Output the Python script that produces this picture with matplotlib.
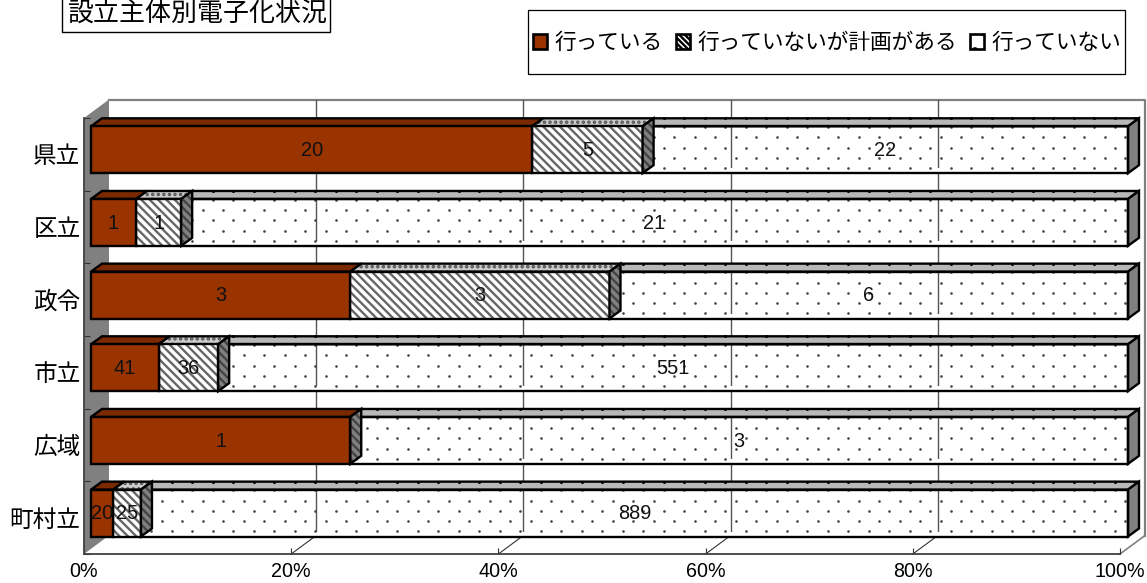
import numpy as np
import matplotlib
matplotlib.use("Agg")
import matplotlib.pyplot as plt
from matplotlib.patches import Patch, Rectangle
from matplotlib.transforms import IdentityTransform

W, H = 1147, 583
JP = ['Noto Sans CJK JP', 'DejaVu Sans']
LATIN = 'Liberation Sans'

# Data
categories = ['県立', '区立', '政令', '市立', '広域', '町村立']
doing = [20, 1, 3, 41, 1, 20]
planned = [5, 1, 3, 36, 0, 25]
not_doing = [22, 21, 6, 551, 3, 889]
series_names = ['行っている', '行っていないが計画がある', '行っていない']
x_ticks = [0, 20, 40, 60, 80, 100]
x_tick_labels = ['0%', '20%', '40%', '60%', '80%', '100%']

BROWN = '#993300'
BROWN_TOP = '#7a2900'
WALL = '#808080'
TOP_GREY = '#b8b8b8'

plt.rcParams['hatch.linewidth'] = 1.7


def px_axes(fig, left, top, right, bottom):
    return fig.add_axes([left / W, 1 - bottom / H, (right - left) / W, (bottom - top) / H])


fig = plt.figure(figsize=(W / 100, H / 100), dpi=100)

# Front plane of the chart box
L, R, T, B = 84, 1120, 118, 554
ax0 = px_axes(fig, L, T, R, B)
ax0.set_xlim(0, 100)
ax0.set_ylim(5.5, -0.5)
ax0.patch.set_visible(False)

sx = 100 / (R - L)
sy = 6 / (B - T)
wall_dx, wall_dy = 25 * sx, 18.5 * sy

# side wall
ax0.fill([0, wall_dx, wall_dx, 0],
         [-0.5, -0.5 - wall_dy, 5.5 - wall_dy, 5.5],
         color=WALL, lw=0, clip_on=False, zorder=1)
# back wall outline
ax0.plot([wall_dx, 100 + wall_dx, 100 + wall_dx],
         [-0.5 - wall_dy, -0.5 - wall_dy, 5.5 - wall_dy],
         color=WALL, lw=1.6, clip_on=False, zorder=1)
ax0.plot([100, 100 + wall_dx], [5.5, 5.5 - wall_dy], color=WALL, lw=1.2, clip_on=False, zorder=1)
# grid lines on back wall and floor
for t in x_ticks[1:-1]:
    ax0.plot([t + wall_dx, t + wall_dx], [-0.5 - wall_dy, 5.5 - wall_dy],
             color='#555555', lw=1.0, clip_on=False, zorder=1)
    ax0.plot([t, t + wall_dx], [5.5, 5.5 - wall_dy], color='#333333', lw=0.8, clip_on=False, zorder=1)

for s in ['top', 'right']:
    ax0.spines[s].set_visible(False)
for s in ['left', 'bottom']:
    ax0.spines[s].set_color('#404040')
    ax0.spines[s].set_linewidth(1.3)

ax0.set_xticks(x_ticks)
ax0.set_xticklabels(x_tick_labels, family=LATIN, fontsize=14.2)
ax0.tick_params(axis='x', direction='in', length=4.5, width=0.8, pad=6, color='#333333')
ax0.set_yticks(range(len(categories)))
ax0.set_yticklabels(categories, family=JP, fontsize=17)
ax0.tick_params(axis='y', which='major', length=0, pad=2.5)
ax0.set_yticks(np.arange(-0.5, 6), minor=True)
ax0.tick_params(axis='y', which='minor', direction='in', length=4.5, width=0.8, color='#333333')

# Bars, shifted a little into the box
ax = px_axes(fig, L + 7, T - 4.6, R + 8, B - 4.6)
ax.set_xlim(0, 100)
ax.set_ylim(5.5, -0.5)
ax.axis('off')

bar_h = 0.645
bar_dx, bar_dy = 11 * 100 / 1037, 8 * sy
edge = dict(edgecolor='black', linewidth=1.7, joinstyle='miter', clip_on=False)

doing = np.array(doing, dtype=float)
planned = np.array(planned, dtype=float)
not_doing = np.array(not_doing, dtype=float)
totals = doing + planned + not_doing
p1 = doing / totals * 100
p2 = planned / totals * 100
p3 = not_doing / totals * 100


def side_face(x, top, bot, z):
    # right hand face of the hatched segment
    fx = [x, x + bar_dx, x + bar_dx, x]
    fy = [top, top - bar_dy, bot - bar_dy, bot]
    ax.fill(fx, fy, facecolor=WALL, hatch='\\\\\\\\', edgecolor='#444444', linewidth=0, zorder=z, clip_on=False)
    ax.fill(fx, fy, facecolor='none', zorder=z + 0.1, **edge)


for i in range(len(categories)):
    y = i
    a, b, c = p1[i], p1[i] + p2[i], 100
    top = y - bar_h / 2
    bot = y + bar_h / 2

    # dotted part: open front, only a white strip along the bottom
    ax.fill([b, c, c, b], [bot, bot, bot - bar_dy * 0.62, bot - bar_dy * 0.62],
            color='white', lw=0, zorder=2, clip_on=False)
    x0, y0 = ax.transData.transform((b, top))
    x1, y1 = ax.transData.transform((c, bot))
    yy = np.arange(y0 - 0.8, y1, -10.25)
    for k, py in enumerate(yy):
        xx = np.arange(233.3 + (k % 2) * 10.2 - 20.5 * 12, 1130, 20.5)
        xx = xx[(xx > x0 + 2) & (xx < x1 - 1)]
        ax.plot(xx, np.full(len(xx), py), ls='', marker='o', ms=1.9, color='#444444',
                mew=0, transform=IdentityTransform(), zorder=3, clip_on=False)
    # dots along upper edge of the top face
    xx = np.arange(233.3 - 20.5 * 12, 1140, 20.5)
    xx = xx[(xx > x0 + 12) & (xx < x1 + 9)]

    ax.fill([b, b + bar_dx, c + bar_dx, c], [top, top - bar_dy, top - bar_dy, top],
            facecolor=TOP_GREY, zorder=3, **edge)
    ax.fill([c, c + bar_dx, c + bar_dx, c], [top, top - bar_dy, bot - bar_dy, bot],
            facecolor=WALL, zorder=3, **edge)
    ax.plot(xx, np.full(len(xx), y0 + 8), ls='', marker='o', ms=2.2, color='black',
            mew=0, transform=IdentityTransform(), zorder=3.5, clip_on=False)
    ax.barh(y, c - b, left=b, height=bar_h, facecolor='none', zorder=3.6, **edge)

    # brown top and side, the next segment sits over the side
    ax.fill([0, bar_dx, a + bar_dx, a], [top, top - bar_dy, top - bar_dy, top],
            facecolor=BROWN_TOP, zorder=3.7, **edge)

    # hatched part
    if p2[i] > 0:
        tx = [a, a + bar_dx, b + bar_dx, b]
        ty = [top, top - bar_dy, top - bar_dy, top]
        ax.fill(tx, ty, facecolor='#cccccc', hatch='...', edgecolor='#555555', linewidth=0,
                zorder=4, clip_on=False)
        ax.fill(tx, ty, facecolor='none', zorder=4.05, **edge)
        ax.barh(y, p2[i], left=a, height=bar_h, facecolor='white', hatch='\\\\\\\\',
                edgecolor='#666666', linewidth=0, zorder=4.1, clip_on=False)
        ax.barh(y, p2[i], left=a, height=bar_h, facecolor='none', zorder=4.2, **edge)
    side_face(b, top, bot, 4.3)

    # brown front
    ax.barh(y, a, left=0, height=bar_h, facecolor=BROWN, zorder=5.5, **edge)

    # value labels
    mids = [a / 2, (a + b) / 2, (b + c) / 2]
    vals = [doing[i], planned[i], not_doing[i]]
    for m, v in zip(mids, vals):
        if v > 0:
            ax.text(m, y + 0.01, str(int(v)), ha='center', va='center', family=LATIN,
                    fontsize=14.4, color='#111111', zorder=8, clip_on=False)

# Title box
fig.patches.append(Rectangle((62 / W, 1 - 32 / H), 268 / W, 60 / H, transform=fig.transFigure,
                             facecolor='white', edgecolor='black', linewidth=1.0))
fig.text(197 / W, 1 - 13 / H, '設立主体別電子化状況', family=JP, fontsize=18.7,
         ha='center', va='center')

# Legend
fig.patches.append(Rectangle((528 / W, 1 - 74 / H), 597 / W, 64 / H, transform=fig.transFigure,
                             facecolor='white', edgecolor='black', linewidth=0.9))
handles = [
    Patch(facecolor=BROWN, edgecolor='black', linewidth=1.9),
    Patch(facecolor='white', edgecolor='black', linewidth=1.9, hatch='\\\\\\\\\\\\'),
    Patch(facecolor='white', edgecolor='black', linewidth=1.9, hatch='.'),
]
leg = fig.legend(handles, series_names, ncol=3, loc='center',
                 bbox_to_anchor=(827 / W, 1 - 43 / H),
                 prop={'family': JP, 'size': 15.6}, frameon=False,
                 handlelength=0.66, handleheight=0.66,
                 handletextpad=0.32, columnspacing=0.62, borderpad=0, borderaxespad=0)

fig.savefig('out.png', dpi=100, facecolor='white')
